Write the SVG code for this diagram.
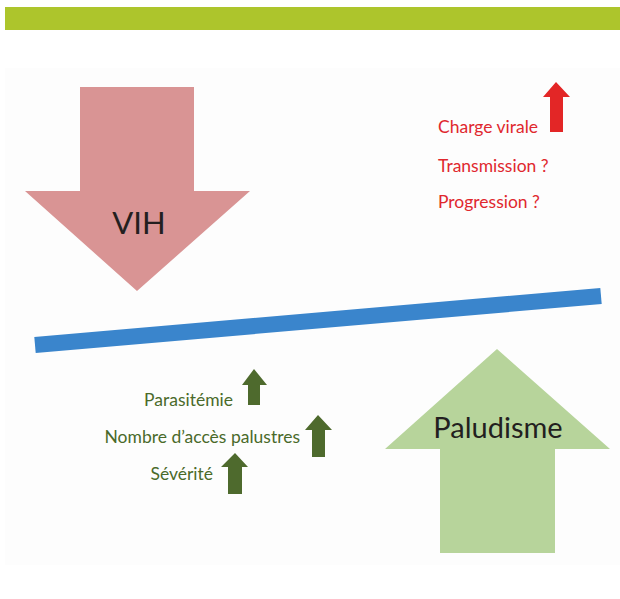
<svg xmlns="http://www.w3.org/2000/svg" width="620" height="599" viewBox="0 0 620 599">
<style>
.red{font-family:Lato,"Liberation Sans",sans-serif;font-size:17.5px;fill:#e0282e}
.grn{font-family:Lato,"Liberation Sans",sans-serif;font-size:17.5px;fill:#4a6a2a}
.big{font-family:Lato,"Liberation Sans",sans-serif;fill:#231f20}
.ga{fill:#4e6a2d}
</style>
<rect x="0" y="0" width="620" height="599" fill="#ffffff"/>
<rect x="5" y="7" width="615" height="23" fill="#adc52c"/>
<rect x="5" y="68" width="615" height="497" fill="#fdfdfd"/>
<g id="vih">
<polygon points="80,87 194,87 194,191 250,191 137,291 25,191 80,191" fill="#d99494"/>
<text class="big" x="139" y="234" font-size="31" text-anchor="middle">VIH</text>
</g>
<g id="connectors">
<line x1="35" y1="345" x2="601" y2="296" stroke="#3a85cc" stroke-width="16"/>
</g>
<g id="paludisme">
<polygon points="497,349 610,449 555,449 555,553 440,553 440,449 385,449" fill="#b7d49b"/>
<text class="big" x="498" y="438" font-size="29" text-anchor="middle">Paludisme</text>
</g>
<g id="vih-effects">
<polygon points="556,82 570,97 563,97 563,132 550,132 550,97 543,97" fill="#e32626"/>
<text class="red" x="438" y="133">Charge virale</text>
<text class="red" x="438" y="172">Transmission ?</text>
<text class="red" x="438" y="208">Progression ?</text>
</g>
<g id="palu-effects">
<polygon class="ga" points="254,369 267,385 260,385 260,405 248,405 248,385 242,385"/>
<polygon class="ga" points="318,415 332,430 325,430 325,457 312,457 312,430 305,430"/>
<polygon class="ga" points="235,453 248,467 242,467 242,494 228,494 228,467 221,467"/>
<text class="grn" x="233" y="406" text-anchor="end">Parasitémie</text>
<text class="grn" x="300" y="443" text-anchor="end">Nombre d’accès palustres</text>
<text class="grn" x="213" y="480" text-anchor="end">Sévérité</text>
</g>
</svg>
